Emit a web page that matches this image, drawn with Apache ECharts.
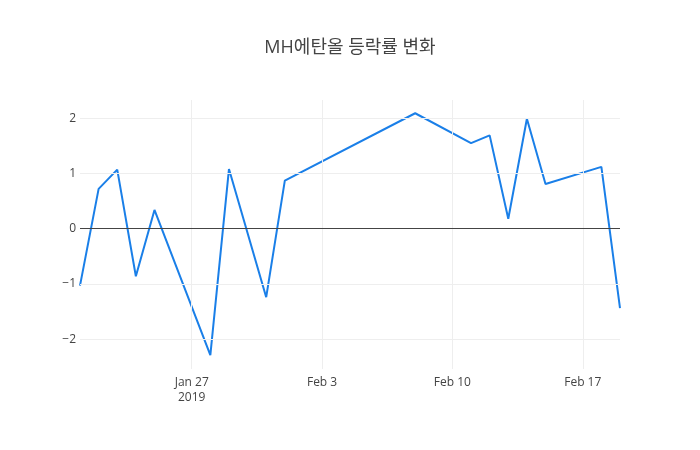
<!DOCTYPE html>
<html>
<head>
<meta charset="utf-8">
<script src="https://cdn.jsdelivr.net/npm/echarts@6/dist/echarts.min.js"></script>
<style>html,body{margin:0;padding:0;background:#fff;}#c{width:700px;height:450px;}</style>
</head>
<body>
<div id="c"></div>
<script>
const titleText = 'MH에탄올 등락률 변화';
const dates = ['2019-01-21','2019-01-22','2019-01-23','2019-01-24','2019-01-25','2019-01-28','2019-01-29','2019-01-31','2019-02-01','2019-02-08','2019-02-11','2019-02-12','2019-02-13','2019-02-14','2019-02-15','2019-02-18','2019-02-19'];
const values = [-1.03, 0.72, 1.07, -0.86, 0.34, -2.29, 1.08, -1.24, 0.87, 2.09, 1.55, 1.69, 0.18, 1.99, 0.81, 1.12, -1.44];
const xTickDates = ['2019-01-27','2019-02-03','2019-02-10','2019-02-17'];
const xTickLabels = ['Jan 27\n2019','Feb 3','Feb 10','Feb 17'];
const yTicks = [-2, -1, 0, 1, 2];
const xRange = ['2019-01-21','2019-02-19'];
const yRange = [-2.54, 2.33];

function ts(s){ const p = s.split('-').map(Number); return Date.UTC(p[0], p[1]-1, p[2]); }
const xTickTs = xTickDates.map(ts);

const chart = echarts.init(document.getElementById('c'), null, {renderer:'canvas'});
const gridLines = [];
xTickTs.forEach(t => gridLines.push({xAxis: t, lineStyle:{color:'#eeeeee', width:1, type:'solid'}}));
yTicks.forEach(v => gridLines.push({yAxis: v, lineStyle:{color: v === 0 ? '#444444' : '#eeeeee', width:1, type:'solid'}}));

chart.setOption({
  animation: false,
  backgroundColor: '#ffffff',
  textStyle: {fontFamily: '"Open Sans", "Noto Sans CJK KR", sans-serif'},
  title: {
    text: titleText, left: 'center', top: 34,
    textStyle: {fontFamily: '"Open Sans", "Noto Sans CJK KR", sans-serif', fontSize: 18, fontWeight: 'normal', color: '#444'}
  },
  grid: {left: 80, right: 80, top: 100, bottom: 81},
  xAxis: {
    type: 'value', min: ts(xRange[0]), max: ts(xRange[1]),
    axisLine: {show: false}, axisTick: {show: false}, splitLine: {show: false},
    axisLabel: {
      customValues: xTickTs, color: '#444', fontSize: 12, margin: 6, lineHeight: 15, hideOverlap: false,
      showMinLabel: true, showMaxLabel: true,
      formatter: function(v){ const i = xTickTs.indexOf(v); return i >= 0 ? xTickLabels[i] : ''; }
    }
  },
  yAxis: {
    type: 'value', min: yRange[0], max: yRange[1],
    axisLine: {show: false}, axisTick: {show: false}, splitLine: {show: false},
    axisLabel: {
      customValues: yTicks, color: '#444', fontSize: 12, margin: 4,
      formatter: function(v){ return v < 0 ? '\u2212' + Math.abs(v) : String(v); }
    }
  },
  series: [
    {
      type: 'line', data: [], z: 1, silent: true,
      markLine: {silent: true, symbol: 'none', label: {show: false}, animation: false, data: gridLines}
    },
    {
      type: 'line', z: 3,
      data: dates.map((d, i) => [ts(d), values[i]]),
      showSymbol: false, symbol: 'none',
      lineStyle: {color: '#1a7fe8', width: 2},
      itemStyle: {color: '#1a7fe8'}
    }
  ]
});
</script>
</body>
</html>
